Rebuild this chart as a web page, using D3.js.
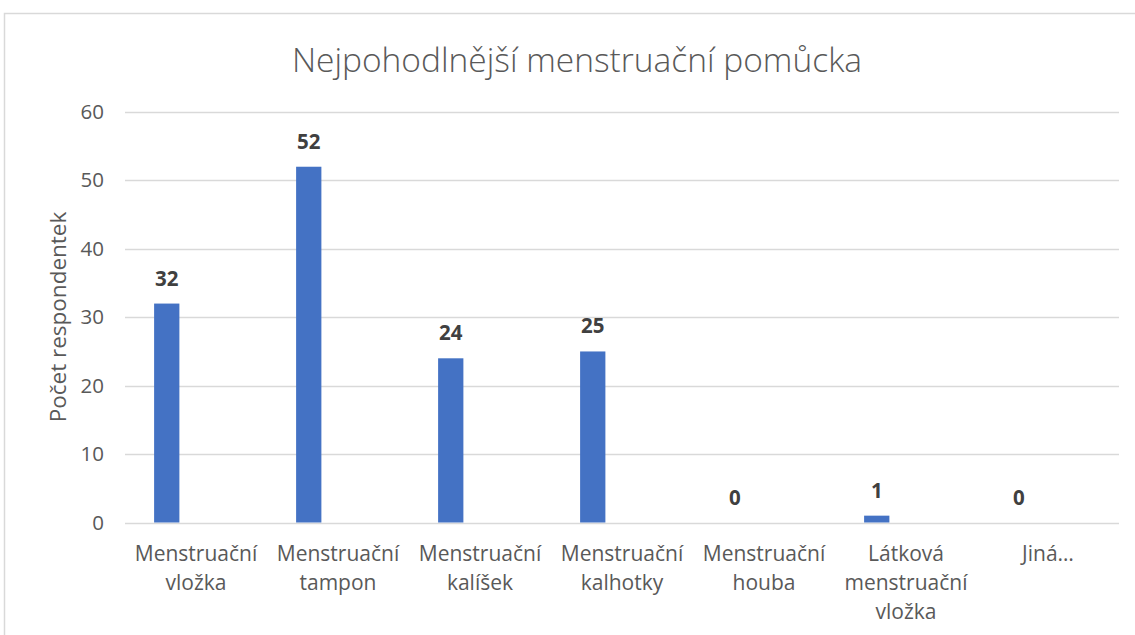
<!DOCTYPE html>
<html><head><meta charset="utf-8">
<script src="https://cdn.jsdelivr.net/npm/d3@7"></script>
<style>body{margin:0;background:#fff;} svg{display:block;}</style>
</head><body>
<svg id="chart" width="1135" height="635"></svg>
<script>
const categories = [
  ["Menstruační","vložka"],
  ["Menstruační","tampon"],
  ["Menstruační","kalíšek"],
  ["Menstruační","kalhotky"],
  ["Menstruační","houba"],
  ["Látková","menstruační","vložka"],
  ["Jiná…"]
];
const values = [32, 52, 24, 25, 0, 1, 0];
const yTicks = [0, 10, 20, 30, 40, 50, 60];
const title = "Nejpohodlnější menstruační pomůcka";
const yTitle = "Počet respondentek";

const font = "'Open Sans', 'Noto Sans', sans-serif";
const svg = d3.select("#chart");
svg.append("rect").attr("x", 4.5).attr("y", 13.5).attr("width", 1140).attr("height", 700)
  .attr("fill", "#fff").attr("stroke", "#d9d9d9").attr("stroke-width", 1.5);

const keys = categories.map((c, i) => i);
const x = d3.scaleBand().domain(keys).range([125, 1119]).padding(0);
const y = d3.scaleLinear().domain([0, 60]).range([522.5, 112]);

// gridlines
svg.append("g").selectAll("line").data(yTicks).join("line")
  .attr("x1", 125).attr("x2", 1119)
  .attr("y1", d => Math.round(y(d)) + 0.5).attr("y2", d => Math.round(y(d)) + 0.5)
  .attr("stroke", "#d9d9d9").attr("stroke-width", 1.5);

// y axis labels
const yAxis = d3.axisLeft(y).tickValues(yTicks).tickSize(0).tickPadding(0);
const gy = svg.append("g").attr("transform", "translate(104,0)").call(yAxis);
gy.select(".domain").remove();
gy.selectAll("text").attr("font-family", font).attr("font-size", 20.5).attr("fill", "#595959");

// bars
const bw = x.bandwidth();
svg.append("g").selectAll("rect").data(values).join("rect")
  .attr("x", (d, i) => x(i) + bw * 0.205)
  .attr("width", bw * 0.178)
  .attr("y", d => y(d))
  .attr("height", d => y(0) - y(d))
  .attr("fill", "#4472c4");

// value labels
svg.append("g").selectAll("text").data(values).join("text")
  .attr("x", (d, i) => x(i) + bw * 0.205 + bw * 0.089)
  .attr("y", d => y(d) - 18)
  .attr("text-anchor", "middle")
  .attr("font-family", font).attr("font-weight", "bold").attr("font-size", 20.5)
  .attr("fill", "#404040")
  .text(d => d);

// category labels
const cg = svg.append("g").selectAll("text").data(categories).join("text")
  .attr("text-anchor", "middle")
  .attr("font-family", font).attr("font-size", 21).attr("fill", "#595959");
cg.each(function(lines, i) {
  const t = d3.select(this);
  lines.forEach((ln, j) => {
    t.append("tspan").attr("x", x(i) + bw / 2).attr("y", 561 + j * 29).text(ln);
  });
});

// title
svg.append("text").attr("x", 577).attr("y", 72).attr("text-anchor", "middle")
  .attr("font-family", font).attr("font-weight", 300).attr("font-size", 33.5)
  .attr("fill", "#595959").text(title);

// y title
svg.append("text").attr("transform", "translate(66,317) rotate(-90)")
  .attr("text-anchor", "middle").attr("font-family", font).attr("font-size", 22.5)
  .attr("fill", "#595959").text(yTitle);
</script>
</body></html>
